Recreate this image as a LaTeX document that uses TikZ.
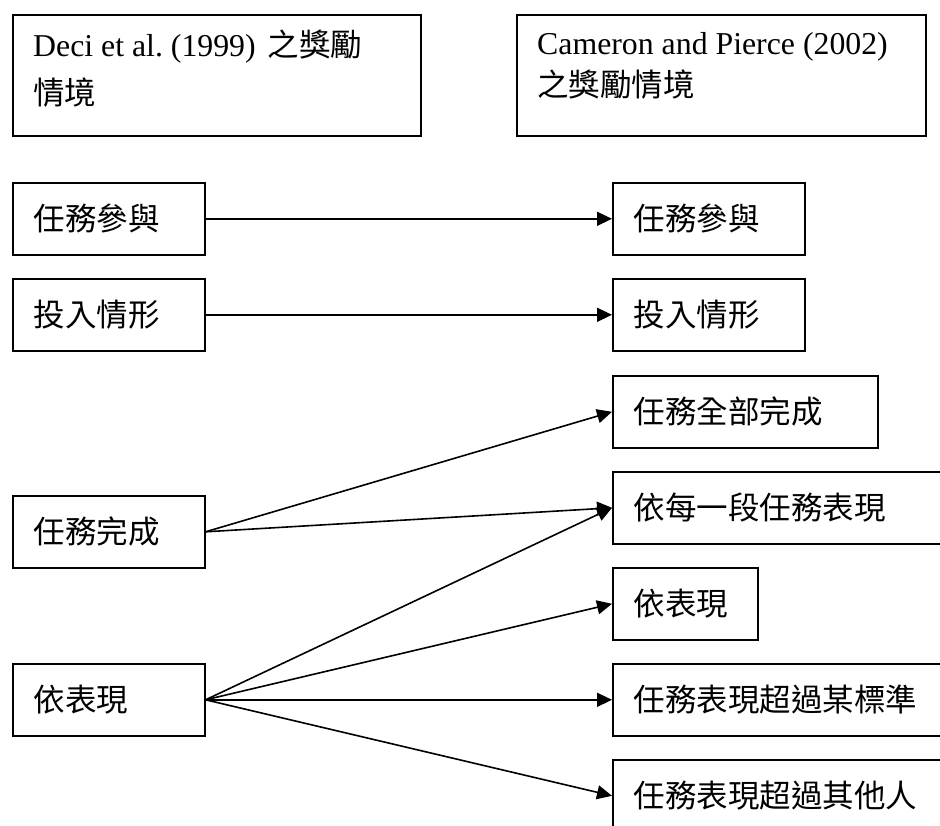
\documentclass[tikz,border=0pt]{standalone}
\usepackage{fontspec}
\setmainfont{Liberation Serif}
\newfontfamily\cjk{Noto Sans CJK TC}
\usetikzlibrary{arrows.meta}
\frenchspacing
\tikzset{
  box/.style={draw, line width=1.6pt, anchor=north west, inner xsep=21pt,
    inner ysep=0pt, align=left, minimum height=72pt,
    font=\cjk\fontsize{31.5}{42}\selectfont},
  hdrbox/.style={draw, line width=1.6pt, anchor=north west, inner sep=0pt,
    minimum height=121pt},
  hdrtext/.style={anchor=base west, inner sep=0pt,
    font=\fontsize{31.8}{42}\selectfont},
  arr/.style={line width=1.6pt, -{Triangle[length=15pt,width=14pt]}},
}
\begin{document}
\begin{tikzpicture}[x=1pt, y=-1pt]
  \useasboundingbox (0,0) rectangle (940,826);
  \fill[white] (0,0) rectangle (940,826);
  \clip (0,0) rectangle (940,826);

  % column headings
  \node[hdrbox, minimum width=408pt] (deci) at (12,14) {};
  \node[hdrtext] (deci1) at ([shift={(21,43)}]deci.north west)
    {Deci et al. (1999)\hspace{12pt}{\cjk\fontsize{31.5}{42}\selectfont 之獎勵}};
  \node[hdrtext] (deci2) at ([shift={(21,91)}]deci.north west)
    {\cjk\fontsize{31.5}{42}\selectfont 情境};

  \node[hdrbox, minimum width=409pt] (cam) at (516,14) {};
  \node[hdrtext] (cam1) at ([shift={(21,41)}]cam.north west)
    {Cameron and Pierce (2002)};
  \node[hdrtext] (cam2) at ([shift={(21,83)}]cam.north west)
    {\cjk\fontsize{31.5}{42}\selectfont 之獎勵情境};

  % left column
  \node[box, minimum width=192pt, text width=150pt] (l1) at (12,182) {任務參與};
  \node[box, minimum width=192pt, text width=150pt] (l2) at (12,278) {投入情形};
  \node[box, minimum width=192pt, text width=150pt] (l3) at (12,495) {任務完成};
  \node[box, minimum width=192pt, text width=150pt] (l4) at (12,663) {依表現};

  % right column
  \node[box, minimum width=192pt, text width=150pt] (r1) at (612,182) {任務參與};
  \node[box, minimum width=192pt, text width=150pt] (r2) at (612,278) {投入情形};
  \node[box, minimum width=265pt, text width=223pt] (r3) at (612,375) {任務全部完成};
  \node[box, minimum width=360pt, text width=318pt] (r4) at (612,471) {依每一段任務表現};
  \node[box, minimum width=145pt, text width=103pt] (r5) at (612,567) {依表現};
  \node[box, minimum width=360pt, text width=318pt] (r6) at (612,663) {任務表現超過某標準};
  \node[box, minimum width=360pt, text width=318pt] (r7) at (612,759) {任務表現超過其他人};

  % connectors
  \draw[arr] (l1.east) -- (r1.west);
  \draw[arr] (l2.east) -- (r2.west);
  \draw[arr] (l3.east) -- (r3.west);
  \draw[arr] (l3.east) -- (r4.west);
  \draw[arr] (l4.east) -- (r4.west);
  \draw[arr] (l4.east) -- (r5.west);
  \draw[arr] (l4.east) -- (r6.west);
  \draw[arr] (l4.east) -- (r7.west);
\end{tikzpicture}
\end{document}
